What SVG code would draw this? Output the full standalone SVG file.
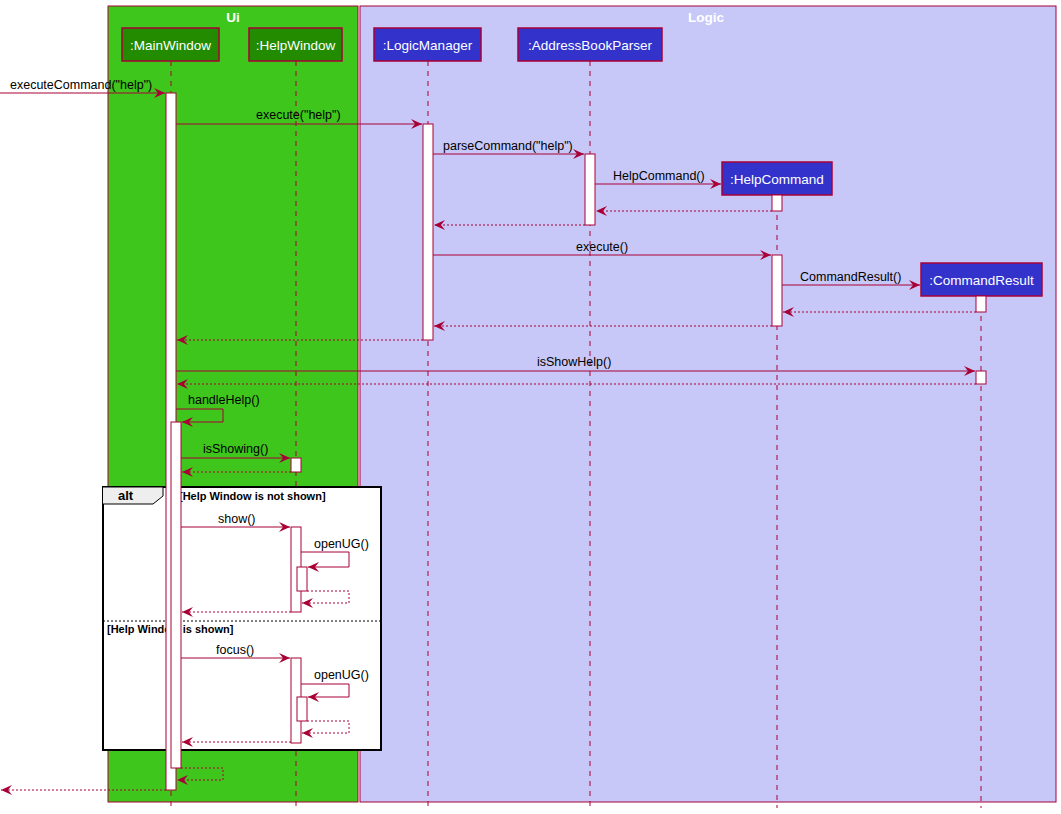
<svg xmlns="http://www.w3.org/2000/svg" width="1061" height="814" viewBox="0 0 1061 814">
<defs>
<marker id="a" markerWidth="12" markerHeight="10" refX="11" refY="5" orient="auto" markerUnits="userSpaceOnUse"><path d="M0,0 L11,5 L0,10 L4,5 Z" fill="#A80036"/></marker>
<style>
text{font-family:"Liberation Sans",Arial,sans-serif;font-size:12.5px;fill:#000}
.pt{fill:#fff;font-size:13.5px}
.ll{stroke:#A80036;stroke-width:1;stroke-dasharray:5,5}
.m{stroke:#A80036;stroke-width:1;fill:none;marker-end:url(#a)}
.r{stroke:#A80036;stroke-width:1;fill:none;stroke-dasharray:2,2;marker-end:url(#a)}
.act{fill:#fff;stroke:#A80036;stroke-width:1}
.pg{fill:#228B00;stroke:#A80036;stroke-width:1.5}
.pb{fill:#3333CC;stroke:#A80036;stroke-width:1.5}
</style>
</defs>
<rect width="1061" height="814" fill="#fff"/>
<g id="box-ui"><rect x="108" y="6" width="250" height="796" fill="#3FC61C" stroke="#A80036"/><text x="233" y="22" text-anchor="middle" style="fill:#fff;font-weight:bold;font-size:13.5px">Ui</text></g>
<g id="box-logic"><rect x="360" y="6" width="696" height="796" fill="#C8C8F8" stroke="#A80036"/><text x="706" y="22" text-anchor="middle" style="fill:#fff;font-weight:bold;font-size:13.5px">Logic</text></g>
<g id="lifelines">
<line class="ll" x1="171" y1="61" x2="171" y2="808"/>
<line class="ll" x1="296" y1="61" x2="296" y2="808"/>
<line class="ll" x1="428" y1="61" x2="428" y2="808"/>
<line class="ll" x1="590" y1="61" x2="590" y2="808"/>
<line class="ll" x1="777" y1="195" x2="777" y2="808"/>
<line class="ll" x1="981" y1="296" x2="981" y2="808"/>
</g>
<g id="alt">
<rect x="103" y="487" width="278" height="263" fill="#fff" stroke="#000" stroke-width="2"/>
<path d="M103,487 L163,487 L163,496 L153,504 L103,504" fill="#EEEEEE" stroke="#000" stroke-width="1"/>
<text x="118" y="500" style="font-weight:bold;font-size:13px">alt</text>
<text x="179" y="500" style="font-weight:bold;font-size:11px">[Help Window is not shown]</text>
<line x1="103" y1="621" x2="381" y2="621" stroke="#000" stroke-dasharray="2,2"/>
<text x="107" y="633" style="font-weight:bold;font-size:11px">[Help Window is shown]</text>
</g>
<g id="MainWindow"><rect class="pg" x="122" y="28" width="97" height="33"/><text class="pt" x="170.5" y="49.5" text-anchor="middle">:MainWindow</text>
<rect class="act" x="166" y="93" width="10" height="697"/><rect class="act" x="171" y="422" width="10" height="346"/></g>
<g id="HelpWindow"><rect class="pg" x="249" y="28" width="93" height="33"/><text class="pt" x="295.5" y="49.5" text-anchor="middle">:HelpWindow</text>
<rect class="act" x="291" y="458" width="10" height="14"/>
<rect class="act" x="291" y="527" width="10" height="85"/><rect class="act" x="297" y="567" width="10" height="24"/>
<rect class="act" x="291" y="658" width="10" height="85"/><rect class="act" x="297" y="697" width="10" height="24"/></g>
<g id="LogicManager"><rect class="pb" x="374" y="28" width="107" height="33"/><text class="pt" x="427.5" y="49.5" text-anchor="middle">:LogicManager</text>
<rect class="act" x="423" y="124" width="10" height="216"/></g>
<g id="AddressBookParser"><rect class="pb" x="518" y="28" width="144" height="33"/><text class="pt" x="590" y="49.5" text-anchor="middle">:AddressBookParser</text>
<rect class="act" x="585" y="154" width="10" height="71"/></g>
<g id="HelpCommand"><rect class="pb" x="722" y="162" width="110" height="33"/><text class="pt" x="777" y="183.5" text-anchor="middle">:HelpCommand</text>
<rect class="act" x="772" y="195" width="10" height="16"/><rect class="act" x="772" y="255" width="10" height="71"/></g>
<g id="CommandResult"><rect class="pb" x="921" y="263" width="121" height="33"/><text class="pt" x="981.5" y="284.5" text-anchor="middle">:CommandResult</text>
<rect class="act" x="976" y="296" width="10" height="16"/><rect class="act" x="976" y="371" width="10" height="13"/></g>
<g id="connectors">
<line class="m" x1="0" y1="93" x2="165" y2="93"/><text x="10" y="89">executeCommand("help")</text>
<line class="m" x1="176" y1="124" x2="422" y2="124"/><text x="256" y="119">execute("help")</text>
<line class="m" x1="433" y1="154" x2="584" y2="154"/><text x="443" y="150">parseCommand("help")</text>
<line class="m" x1="595" y1="184" x2="721" y2="184"/><text x="613" y="180">HelpCommand()</text>
<line class="r" x1="772" y1="211" x2="596" y2="211"/>
<line class="r" x1="585" y1="225" x2="434" y2="225"/>
<line class="m" x1="433" y1="255" x2="771" y2="255"/><text x="576" y="251">execute()</text>
<line class="m" x1="782" y1="285" x2="920" y2="285"/><text x="800" y="281">CommandResult()</text>
<line class="r" x1="976" y1="312" x2="783" y2="312"/>
<line class="r" x1="772" y1="326" x2="434" y2="326"/>
<line class="r" x1="423" y1="340" x2="177" y2="340"/>
<line class="m" x1="176" y1="371" x2="975" y2="371"/><text x="537" y="366">isShowHelp()</text>
<line class="r" x1="976" y1="384" x2="177" y2="384"/>
<polyline class="m" points="176,409 223,409 223,422 182,422"/><text x="188" y="404">handleHelp()</text>
<line class="m" x1="181" y1="458" x2="290" y2="458"/><text x="203" y="453">isShowing()</text>
<line class="r" x1="291" y1="472" x2="182" y2="472"/>
<line class="m" x1="181" y1="527" x2="290" y2="527"/><text x="218" y="523">show()</text>
<polyline class="m" points="301,552 349,552 349,567 308,567"/><text x="314" y="548">openUG()</text>
<polyline class="r" points="307,591 349,591 349,603 302,603"/>
<line class="r" x1="291" y1="612" x2="182" y2="612"/>
<line class="m" x1="181" y1="658" x2="290" y2="658"/><text x="216" y="654">focus()</text>
<polyline class="m" points="301,684 349,684 349,697 308,697"/><text x="314" y="679">openUG()</text>
<polyline class="r" points="307,721 349,721 349,733 302,733"/>
<line class="r" x1="291" y1="742" x2="182" y2="742"/>
<polyline class="r" points="181,768 223,768 223,780 177,780"/>
<line class="r" x1="166" y1="790" x2="1" y2="790"/>
</g>
</svg>
